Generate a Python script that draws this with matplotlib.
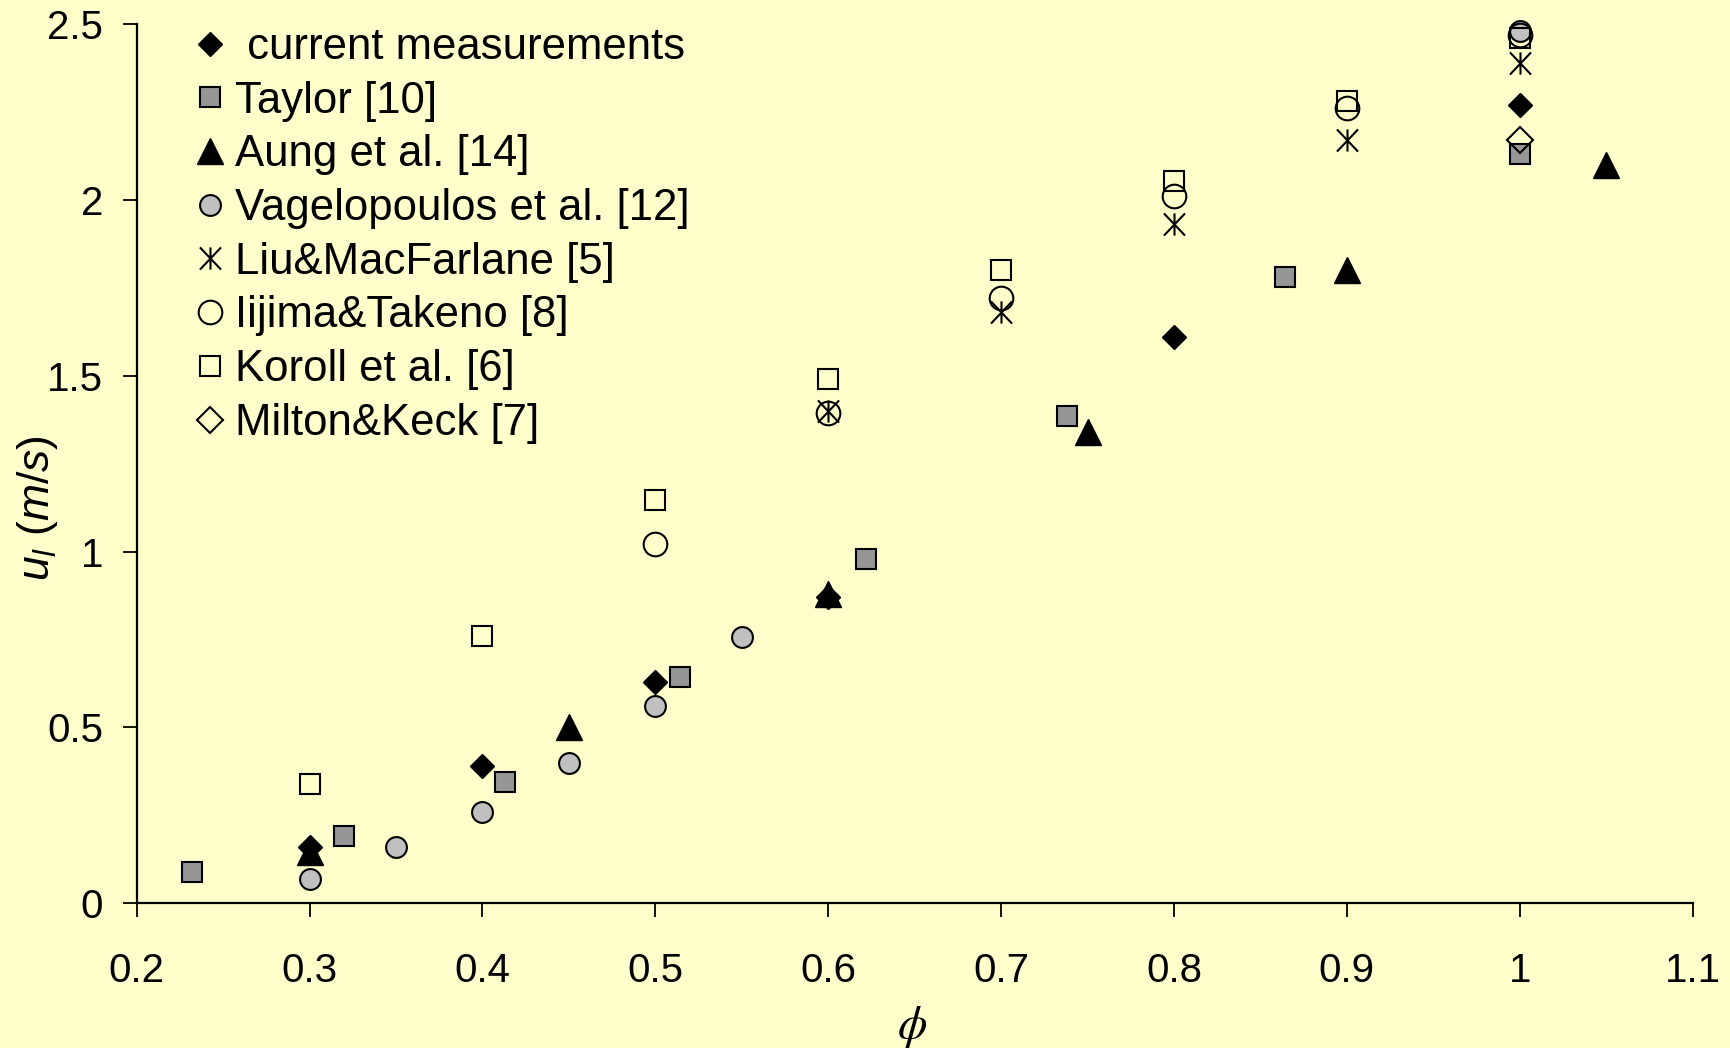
import matplotlib
matplotlib.use('Agg')
import matplotlib.pyplot as plt
from matplotlib.path import Path
from matplotlib.ticker import FuncFormatter

plt.rcParams['font.family'] = ['Liberation Sans', 'DejaVu Sans']
plt.rcParams['mathtext.fontset'] = 'custom'
plt.rcParams['mathtext.rm'] = 'Liberation Sans'
plt.rcParams['mathtext.it'] = 'Liberation Sans:italic'

# laminar burning velocity vs equivalence ratio
cur_phi = [0.3, 0.4, 0.5, 0.6, 0.8, 1.0]
cur_u = [0.16, 0.39, 0.63, 0.87, 1.61, 2.27]

taylor_phi = [0.232, 0.32, 0.413, 0.514, 0.622, 0.738, 0.864, 1.0]
taylor_u = [0.088, 0.19, 0.345, 0.643, 0.98, 1.386, 1.78, 2.13]

aung_phi = [0.3, 0.45, 0.6, 0.75, 0.9, 1.05]
aung_u = [0.145, 0.50, 0.88, 1.34, 1.80, 2.10]

vag_phi = [0.3, 0.35, 0.4, 0.45, 0.5, 0.55, 1.0]
vag_u = [0.07, 0.16, 0.26, 0.40, 0.56, 0.758, 2.48]

liu_phi = [0.6, 0.7, 0.8, 0.9, 1.0]
liu_u = [1.40, 1.68, 1.93, 2.17, 2.39]

iijima_phi = [0.5, 0.6, 0.7, 0.8, 0.9, 1.0]
iijima_u = [1.022, 1.393, 1.72, 2.01, 2.26, 2.47]

koroll_phi = [0.3, 0.4, 0.5, 0.6, 0.7, 0.8, 0.9, 1.0]
koroll_u = [0.34, 0.76, 1.148, 1.491, 1.80, 2.055, 2.28, 2.46]

milton_phi = [1.0]
milton_u = [2.17]

x_ticks = [0.2, 0.3, 0.4, 0.5, 0.6, 0.7, 0.8, 0.9, 1.0, 1.1]
y_ticks = [0, 0.5, 1, 1.5, 2, 2.5]

bg = '#FFFFCC'

# asterisk: vertical bar plus an X
star = Path([(0, -1), (0, 1), (-0.95, -1), (0.95, 1), (-0.95, 1), (0.95, -1)],
            [Path.MOVETO, Path.LINETO, Path.MOVETO, Path.LINETO, Path.MOVETO, Path.LINETO])

fig = plt.figure(figsize=(17.3, 10.48), dpi=100, facecolor=bg)
ax = fig.add_axes([136.7 / 1730, 1 - 903.3 / 1048, (1692.6 - 136.7) / 1730, (903.3 - 24) / 1048])
ax.set_facecolor(bg)

kw = dict(linestyle='none', clip_on=False)
ax.plot(cur_phi, cur_u, marker='D', ms=12.5, mfc='black', mec='black', mew=1,
        label=' current measurements', **kw)
ax.plot(taylor_phi, taylor_u, marker='s', ms=15, mfc='#969696', mec='black', mew=1.5,
        label='Taylor [10]', **kw)
ax.plot(aung_phi, aung_u, marker='^', ms=19, mfc='black', mec='black', mew=1,
        label='Aung et al. [14]', **kw)
ax.plot(vag_phi, vag_u, marker='o', ms=15, mfc='#C0C0C0', mec='black', mew=1.5,
        label='Vagelopoulos et al. [12]', **kw)
ax.plot(liu_phi, liu_u, marker=star, ms=16, mfc='none', mec='black', mew=1.5,
        label='Liu&MacFarlane [5]', **kw)
ax.plot(iijima_phi, iijima_u, marker='o', ms=17, mfc='none', mec='black', mew=1.5,
        label='Iijima&Takeno [8]', **kw)
ax.plot(koroll_phi, koroll_u, marker='s', ms=15, mfc='none', mec='black', mew=1.5,
        label='Koroll et al. [6]', **kw)
ax.plot(milton_phi, milton_u, marker='D', ms=13, mfc='none', mec='black', mew=1.5,
        label='Milton&Keck [7]', **kw)

ax.set_xlim(0.2, 1.1)
ax.set_ylim(0, 2.5)
ax.set_xticks(x_ticks)
ax.set_yticks(y_ticks)
fmt = FuncFormatter(lambda v, p: '%g' % v)
ax.xaxis.set_major_formatter(fmt)
ax.yaxis.set_major_formatter(fmt)

for s in ['top', 'right']:
    ax.spines[s].set_visible(False)
for s in ['left', 'bottom']:
    ax.spines[s].set_linewidth(1.6)
ax.tick_params(axis='x', direction='out', length=10, width=1.3, pad=25, labelsize=29)
ax.tick_params(axis='y', direction='out', length=10, width=1.3, pad=14, labelsize=29)

fig.text(37 / 1730, 1 - 508 / 1048, r'$u_l\ (m/s)$', rotation=90,
         ha='center', va='center', fontsize=32)
fig.text(912 / 1730, 1 - 1027 / 1048, r'$\phi$', math_fontfamily='stix',
         ha='center', va='center', fontsize=34)

ax.legend(loc='upper left', bbox_to_anchor=(194.5 / 1730, 1 - 27 / 1048),
          bbox_transform=fig.transFigure, frameon=False, fontsize=31.5,
          borderpad=0, borderaxespad=0, handlelength=0.71, handletextpad=0.22,
          labelspacing=0.29, numpoints=1)

fig.savefig('out.png', dpi=100, facecolor=bg)
